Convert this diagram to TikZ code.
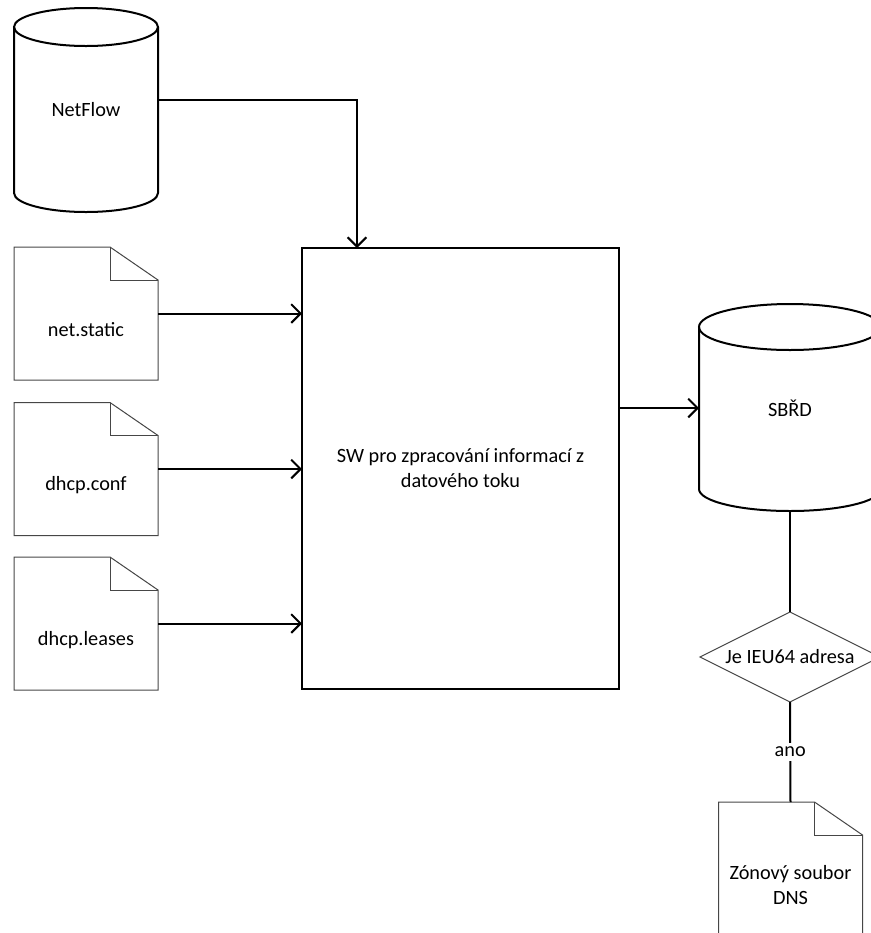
\documentclass[tikz,border=0pt]{standalone}
\usepackage{fontspec}
\setmainfont{Carlito}
\usetikzlibrary{arrows.meta,calc}
\newcommand\pxu{0.75pt}
\begin{document}
\begin{tikzpicture}[x=0.75pt,y=-0.75pt,
  font=\fontsize{15.2pt}{18.7pt}\selectfont,
  thickline/.style={line width=1.5pt,black},
  thinline/.style={line width=0.75pt,draw={rgb,255:red,70;green,70;blue,70}},
  arr/.style={thickline,-{Straight Barb[length=7pt,width=14pt,line width=1.5pt]}},
  area/.style={rectangle,inner sep=0pt,outer sep=0pt},
  docarea/.style={area,minimum width=144*\pxu,minimum height=133*\pxu},
]
\useasboundingbox (0,0) rectangle (871,933);
\clip (0,0) rectangle (871,933);

% ---- data stores (cylinders), node = body between ellipse centres
\node[area,minimum width=144*\pxu,minimum height=166*\pxu] (netflow) at (86,110) {NetFlow};
\node[area,minimum width=182*\pxu,minimum height=162*\pxu] (sbrd) at (790,408) {SBŘD};

\draw[thickline] (netflow.north) ellipse [x radius=72,y radius=19];
\draw[thickline] (netflow.north west) -- (netflow.south west)
   arc[start angle=180,end angle=0,x radius=72,y radius=19] -- (netflow.north east);
\draw[thickline] (sbrd.north) ellipse [x radius=91,y radius=23];
\draw[thickline] (sbrd.north west) -- (sbrd.south west)
   arc[start angle=180,end angle=0,x radius=91,y radius=22] -- (sbrd.north east);

% ---- processing block
\node[area,draw,thickline,minimum width=317*\pxu,minimum height=441*\pxu,align=center]
  (sw) at (460.5,468.5) {SW pro zpracování informací z\\datového toku};

% ---- documents
\node[docarea] (netstatic)  at (86,313.5) {};
\node[docarea] (dhcpconf)   at (86,469)   {};
\node[docarea] (dhcpleases) at (86,623.5) {};
\node[docarea] (dns)        at (790.5,868.5) {};

\foreach \d in {netstatic,dhcpconf,dhcpleases,dns}{
  \draw[thinline] (\d.north west) -- ([xshift=-36pt]\d.north east)
     -- ([yshift=-24.75pt]\d.north east) -- (\d.south east) -- (\d.south west) -- cycle;
  \draw[thinline] ([xshift=-36pt]\d.north east) |- ([yshift=-24.75pt]\d.north east);
}
\node (netstatic-t)  at ([yshift=-12.4pt]netstatic.center)  {net.static};
\node (dhcpconf-t)   at ([yshift=-12.4pt]dhcpconf.center)   {dhcp.conf};
\node (dhcpleases-t) at ([yshift=-12.4pt]dhcpleases.center) {dhcp.leases};
\node[align=center] (dns-t) at ([yshift=-12.4pt]dns.center) {Zónový soubor\\DNS};

% ---- decision
\node[area,minimum width=180*\pxu,minimum height=90*\pxu] (ieu) at (790,657) {Je IEU64 adresa};
\draw[thinline] (ieu.west) -- (ieu.north) -- (ieu.east) -- (ieu.south) -- cycle;

% ---- connectors
\draw[arr] (netflow.east |- 0,100) -| (357,0 |- sw.north);
\draw[arr] (netstatic.east) -- (sw.west |- netstatic.east);
\draw[arr] (dhcpconf.east) -- (sw.west |- dhcpconf.east);
\draw[arr] (dhcpleases.east) -- (sw.west |- dhcpleases.east);
\draw[arr] (sw.east |- 0,408) -- (sbrd.west |- 0,408);
\draw[thickline] ([yshift=-16.5pt]sbrd.south) -- (ieu.north);
\draw[thickline] (ieu.south) -- node[fill=white,inner sep=3pt] (ano) {ano} (dns.north);
\end{tikzpicture}
\end{document}
